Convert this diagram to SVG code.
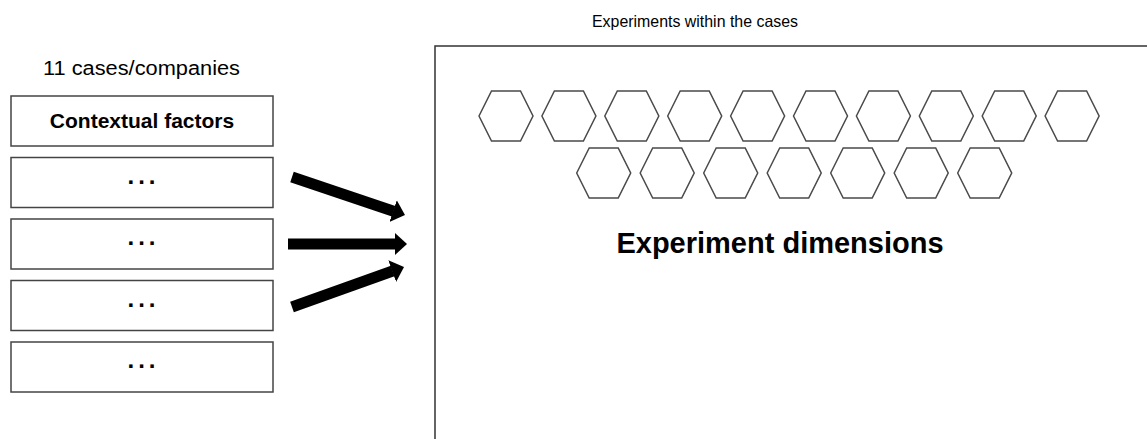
<svg xmlns="http://www.w3.org/2000/svg" xmlns:xlink="http://www.w3.org/1999/xlink" width="1147" height="439" viewBox="0 0 1147 439">
  <style>
    .box { fill: #ffffff; stroke: #444444; stroke-width: 1.5; }
    .hex { fill: #ffffff; stroke: #4a4a4a; stroke-width: 1.5; }
    .lbl { font-family: "Liberation Sans", Arial, sans-serif; fill: #000000; text-anchor: middle; }
    .bold { font-weight: bold; }
    .dots { font-size: 24px; letter-spacing: 4px; }
    .arrow { stroke: #000000; stroke-width: 11; fill: none; marker-end: url(#head); }
  </style>
  <defs>
    <marker id="head" markerUnits="userSpaceOnUse" markerWidth="14" markerHeight="24" refX="0.5" refY="12" orient="auto">
      <path d="M0,0.5 L12.5,12 L0,23.5 Z" fill="#000000"/>
    </marker>
    <polygon id="hexshape" points="-27,0 -14.5,-25 14.5,-25 27,0 14.5,25 -14.5,25"/>
  </defs>
  <rect width="1147" height="439" fill="#ffffff"/>

  <text class="lbl" x="141.5" y="74.5" font-size="20" textLength="197" lengthAdjust="spacingAndGlyphs">11 cases/companies</text>
  <text class="lbl" x="695" y="27" font-size="16.5" textLength="206" lengthAdjust="spacingAndGlyphs">Experiments within the cases</text>

  <g id="case-contextual">
    <rect class="box" x="11" y="96" width="262" height="50"/>
    <text class="lbl bold" x="142" y="128.3" font-size="21">Contextual factors</text>
  </g>
  <g id="case-2">
    <rect class="box" x="11" y="157.5" width="262" height="50"/>
    <text class="lbl bold dots" x="143.5" y="183.5">...</text>
  </g>
  <g id="case-3">
    <rect class="box" x="11" y="219" width="262" height="50"/>
    <text class="lbl bold dots" x="143.5" y="245">...</text>
  </g>
  <g id="case-4">
    <rect class="box" x="11" y="280.5" width="262" height="50"/>
    <text class="lbl bold dots" x="143.5" y="306.5">...</text>
  </g>
  <g id="case-5">
    <rect class="box" x="11" y="342" width="262" height="50"/>
    <text class="lbl bold dots" x="143.5" y="368">...</text>
  </g>

  <g id="experiments">
    <rect x="435" y="46" width="800" height="500" fill="#ffffff" stroke="#333333" stroke-width="1.5"/>
    <text class="lbl bold" x="780" y="253.3" font-size="29">Experiment dimensions</text>
  </g>

  <g id="hexagons">
    <g id="hex-1-1"><use xlink:href="#hexshape" href="#hexshape" class="hex" x="506" y="116"/></g>
    <g id="hex-1-2"><use xlink:href="#hexshape" href="#hexshape" class="hex" x="568.9" y="116"/></g>
    <g id="hex-1-3"><use xlink:href="#hexshape" href="#hexshape" class="hex" x="631.8" y="116"/></g>
    <g id="hex-1-4"><use xlink:href="#hexshape" href="#hexshape" class="hex" x="694.7" y="116"/></g>
    <g id="hex-1-5"><use xlink:href="#hexshape" href="#hexshape" class="hex" x="757.6" y="116"/></g>
    <g id="hex-1-6"><use xlink:href="#hexshape" href="#hexshape" class="hex" x="820.5" y="116"/></g>
    <g id="hex-1-7"><use xlink:href="#hexshape" href="#hexshape" class="hex" x="883.4" y="116"/></g>
    <g id="hex-1-8"><use xlink:href="#hexshape" href="#hexshape" class="hex" x="946.3" y="116"/></g>
    <g id="hex-1-9"><use xlink:href="#hexshape" href="#hexshape" class="hex" x="1009.2" y="116"/></g>
    <g id="hex-1-10"><use xlink:href="#hexshape" href="#hexshape" class="hex" x="1072.1" y="116"/></g>
    <g id="hex-2-1"><use xlink:href="#hexshape" href="#hexshape" class="hex" x="603.7" y="173"/></g>
    <g id="hex-2-2"><use xlink:href="#hexshape" href="#hexshape" class="hex" x="667.2" y="173"/></g>
    <g id="hex-2-3"><use xlink:href="#hexshape" href="#hexshape" class="hex" x="730.7" y="173"/></g>
    <g id="hex-2-4"><use xlink:href="#hexshape" href="#hexshape" class="hex" x="794.2" y="173"/></g>
    <g id="hex-2-5"><use xlink:href="#hexshape" href="#hexshape" class="hex" x="857.7" y="173"/></g>
    <g id="hex-2-6"><use xlink:href="#hexshape" href="#hexshape" class="hex" x="921.2" y="173"/></g>
    <g id="hex-2-7"><use xlink:href="#hexshape" href="#hexshape" class="hex" x="984.7" y="173"/></g>
  </g>

  <g id="connectors">
    <line class="arrow" x1="292" y1="177" x2="393.6" y2="211.2"/>
    <line class="arrow" x1="288" y1="244" x2="395" y2="244"/>
    <line class="arrow" x1="292" y1="307" x2="392.7" y2="271"/>
  </g>
</svg>
